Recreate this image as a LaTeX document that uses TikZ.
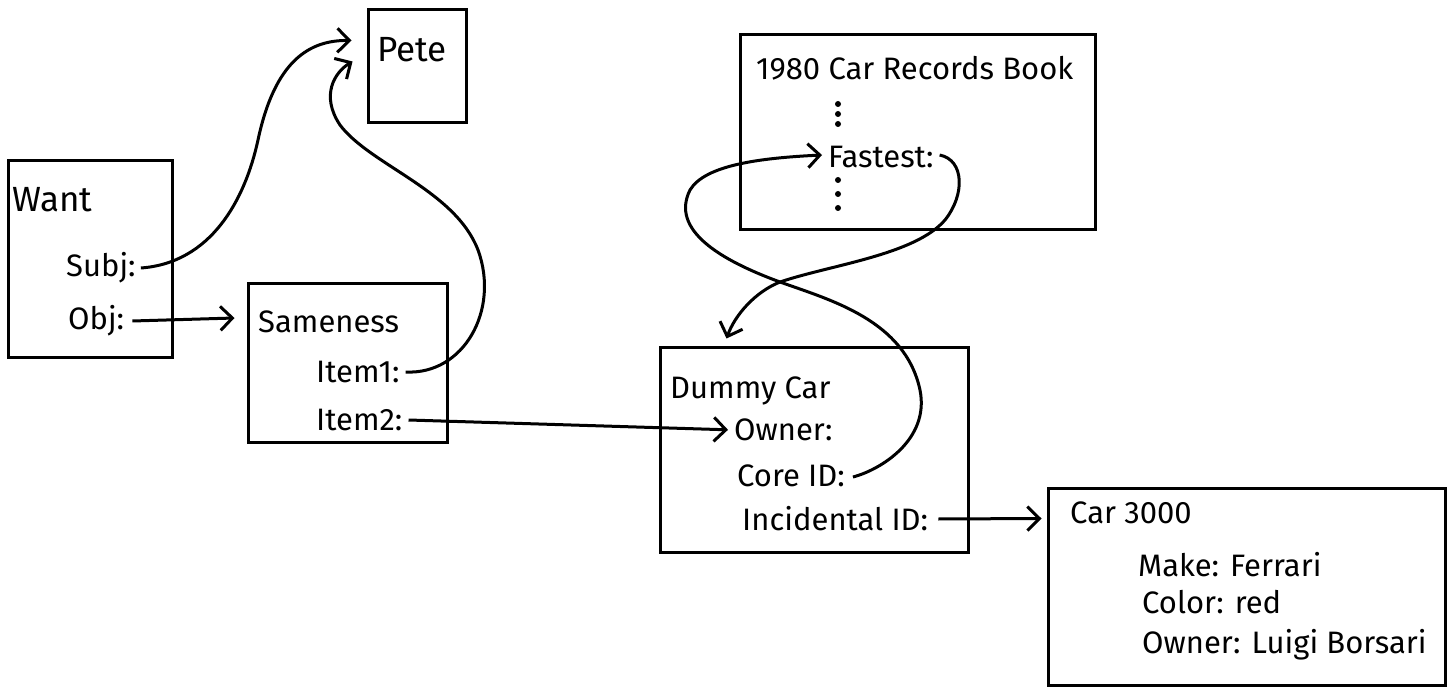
\documentclass[tikz,border=0pt]{standalone}
\usepackage{fontspec}
\setmainfont{Fira Sans}
\usetikzlibrary{arrows.meta,calc}
\begin{document}
\begin{tikzpicture}[x=1pt,y=-1pt,
  frame/.style={draw,line width=3pt,rectangle,inner sep=0pt},
  lbl/.style={anchor=west,inner sep=0pt,font=\fontsize{31}{36}\selectfont},
  biglbl/.style={lbl,font=\fontsize{35}{40}\selectfont},
  link/.style={line width=3pt,-{Straight Barb[length=12pt,width=24pt,line width=3pt]}},
  dot/.style={fill,circle,inner sep=0pt,minimum size=6pt}]
\useasboundingbox (0,0) rectangle (1455,692);

% frames
\node[frame,minimum width=164pt,minimum height=196pt] (want)  at (90,259) {};
\node[frame,minimum width=98pt, minimum height=113pt] (pete)  at (417,66.5) {};
\node[frame,minimum width=199pt,minimum height=158pt] (same)  at (347.5,363) {};
\node[frame,minimum width=355pt,minimum height=195pt] (book)  at (917.5,132.5) {};
\node[frame,minimum width=308pt,minimum height=205pt] (dummy) at (814,449.5) {};
\node[frame,minimum width=397pt,minimum height=197pt] (car)   at (1246.5,586.5) {};

% labels
\node[biglbl] (wantT)  at (12,200) {Want};
\node[lbl] (subj)   at (66,268) {Subj:};
\node[lbl] (obj)    at (68,321) {Obj:};
\node[biglbl] (peteT)  at (377,50) {Pete};
\node[lbl] (sameT)  at (258,322) {Sameness};
\node[lbl] (item1)  at (316,372) {Item1:};
\node[lbl] (item2)  at (316,420) {Item2:};
\node[lbl] (bookT)  at (756,68) {1980 Car Records Book};
\node[lbl] (fast)   at (828,157) {Fastest:};
\node[lbl] (dummyT) at (670,391) {Dummy Car};
\node[lbl] (owner)  at (734,430) {Owner:};
\node[lbl] (core)   at (737,476) {Core ID:};
\node[lbl] (incid)  at (742,519) {Incidental ID:};
\node[lbl] (carT)   at (1070,513) {Car 3000};
\node[lbl] (make)   at (1138,565) {Make: Ferrari};
\node[lbl] (color)  at (1142,602) {Color: red};
\node[lbl] (cown)   at (1142,645) {Owner: Luigi Borsari};

% elided entries of the records book
\foreach \y in {104,114,124,180,194,208}
  \node[dot] at (838,\y) {};

% arrow end points just outside the frames
\coordinate (peteA) at ($(pete.north west)+(-15,32)$);
\coordinate (peteB) at ($(pete.north west)+(-14,53)$);
\coordinate (sameIn) at ($(same.west)+(-12,-45)$);
\coordinate (fastIn) at ($(fast.west)+(-6,-2)$);
\coordinate (dummyIn) at ($(dummy.north west)+(68,-7)$);

% connectors
\draw[link] ($(subj.east)+(5,0)$) .. controls +(70,-5) and (245,200) .. (258,140)
  .. controls (275,60) and (310,40) .. (peteA);
\draw[link] ($(obj.east)+(8,0)$) -- (sameIn);
\draw[link] ($(item1.east)+(6,0)$) .. controls +(58,3) and (500,310) .. (478,250)
  .. controls (455,190) and (370,165) .. (340,125)
  .. controls (320,95) and (335,72) .. (peteB);
\draw[link,shorten >=6pt] ($(item2.east)+(6,0)$) -- (owner.west);
\draw[link] ($(core.east)+(8,1)$) .. controls +(27,-7) and (930,440) .. (920,390)
  .. controls (905,320) and (830,300) .. (780,282)
  .. controls (720,260) and (670,230) .. (690,190)
  .. controls (705,165) and (760,158) .. (fastIn);
\draw[link] ($(fast.east)+(6,-2)$) .. controls +(25,5) and (965,195) .. (945,220)
  .. controls (915,255) and (830,265) .. (780,282)
  .. controls (755,292) and (735,315) .. (dummyIn);
\draw[link] ($(incid.east)+(10,0)$) -- ($(car.west)+(-5,-68)$);
\end{tikzpicture}
\end{document}
